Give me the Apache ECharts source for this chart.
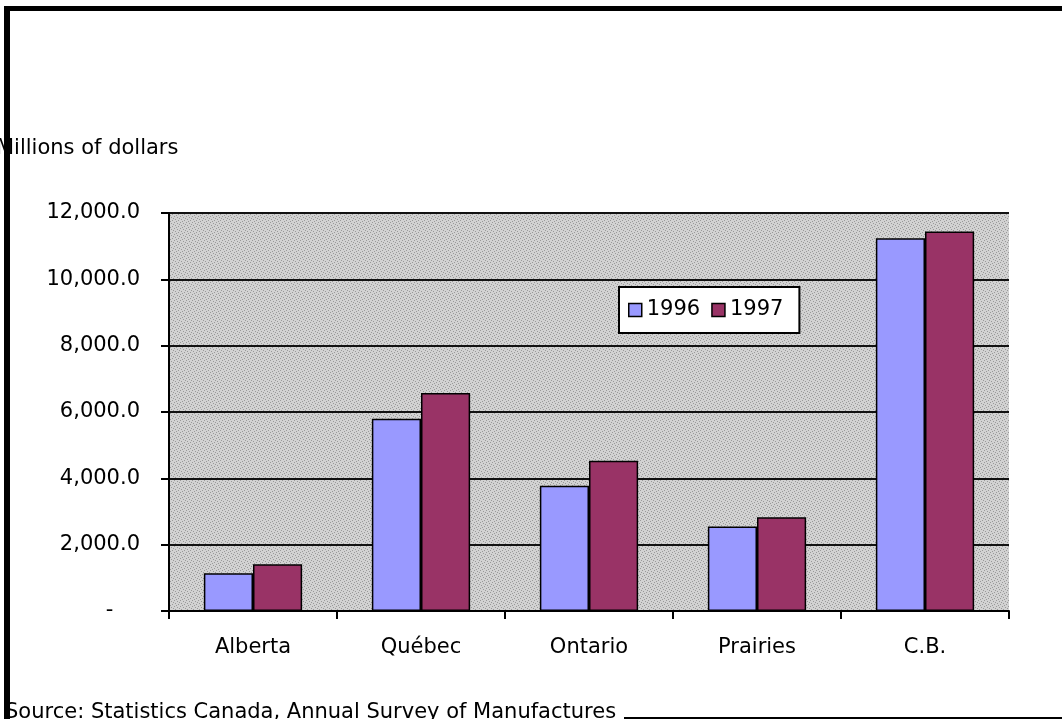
<!DOCTYPE html>
<html>
<head>
<meta charset="utf-8">
<style>
  html, body { margin: 0; padding: 0; background: #fff; overflow: hidden; }
  #chart { position: absolute; left: 0; top: 0; width: 1062px; height: 719px; }
  .frame { position: absolute; background: #000; z-index: 10; }
</style>
<script src="https://cdn.jsdelivr.net/npm/echarts@6/dist/echarts.min.js"></script>
</head>
<body>
<div id="chart"></div>
<!-- black frame of the original picture -->
<div class="frame" style="left:4px; top:6px; width:1058px; height:5px;"></div>
<div class="frame" style="left:4px; top:6px; width:6px; height:713px;"></div>
<div class="frame" style="left:624px; top:717px; width:438px; height:2px;"></div>
<script>
// 数据
const categories = ['Alberta', 'Québec', 'Ontario', 'Prairies', 'C.B.'];
const values1996 = [1140, 5800, 3780, 2550, 11240];
const values1997 = [1410, 6570, 4530, 2830, 11440];
const yTicks = { min: 0, max: 12000, interval: 2000 };

const font = 'DejaVu Sans, sans-serif';
const fs = 21;

// 灰色点状背景纹理
function makeDots() {
  const c = document.createElement('canvas');
  c.width = 6; c.height = 6;
  const ctx = c.getContext('2d');
  ctx.fillStyle = '#d2d2d2';
  ctx.fillRect(0, 0, 6, 6);
  ctx.fillStyle = '#999999';
  [[0, 0], [3, 1], [1, 3], [4, 4], [2, 5], [5, 2]].forEach(p => ctx.fillRect(p[0], p[1], 1, 1));
  return c;
}

const chart = echarts.init(document.getElementById('chart'));

const option = {
  backgroundColor: '#fff',
  animation: false,
  textStyle: { fontFamily: font, color: '#000' },
  title: [
    {
      text: 'Millions of dollars',
      left: -4, top: 138, padding: 0,
      textStyle: { fontSize: fs, fontWeight: 'normal', color: '#000', fontFamily: font, lineHeight: 22 }
    },
    {
      text: 'Source: Statistics Canada, Annual Survey of Manufactures',
      left: 5, top: 702, padding: 0,
      textStyle: { fontSize: fs, fontWeight: 'normal', color: '#000', fontFamily: font, lineHeight: 22 }
    }
  ],
  legend: {
    left: 619, top: 287,
    backgroundColor: '#fff',
    borderColor: '#000', borderWidth: 2,
    padding: [12, 16, 12, 9],
    itemWidth: 13, itemHeight: 13, itemGap: 11,
    icon: 'rect',
    itemStyle: { borderColor: '#000', borderWidth: 1.5 },
    textStyle: { fontSize: fs, color: '#000', fontFamily: font, lineHeight: 22 },
    data: ['1996', '1997']
  },
  grid: {
    left: 169, top: 213, right: 53, bottom: 108,
    show: true,
    borderWidth: 0,
    backgroundColor: { image: makeDots(), repeat: 'repeat' }
  },
  xAxis: {
    type: 'category',
    data: categories,
    axisLine: { lineStyle: { color: '#000', width: 2 } },
    axisTick: { show: true, length: 8, lineStyle: { color: '#000', width: 2 } },
    axisLabel: { fontSize: fs, color: '#000', fontFamily: font, margin: 26 }
  },
  yAxis: {
    type: 'value',
    min: yTicks.min, max: yTicks.max, interval: yTicks.interval,
    axisLine: { show: true, lineStyle: { color: '#000', width: 2 } },
    axisTick: { show: true, length: 8, lineStyle: { color: '#000', width: 2 } },
    splitLine: { lineStyle: { color: '#111', width: 2 } },
    axisLabel: {
      fontSize: fs, color: '#000', fontFamily: font, margin: 29,
      formatter: v => v === 0 ? '-    ' : v.toLocaleString('en-US', { minimumFractionDigits: 1, maximumFractionDigits: 1 })
    }
  },
  series: [
    {
      name: '1996', type: 'bar', data: values1996,
      barGap: '0%', barCategoryGap: '41.5%',
      itemStyle: { color: '#9999ff', borderColor: '#000', borderWidth: 1.5 }
    },
    {
      name: '1997', type: 'bar', data: values1997,
      barGap: '0%', barCategoryGap: '41.5%',
      itemStyle: { color: '#993366', borderColor: '#000', borderWidth: 1.5 }
    }
  ]
};

chart.setOption(option);
</script>
</body>
</html>
